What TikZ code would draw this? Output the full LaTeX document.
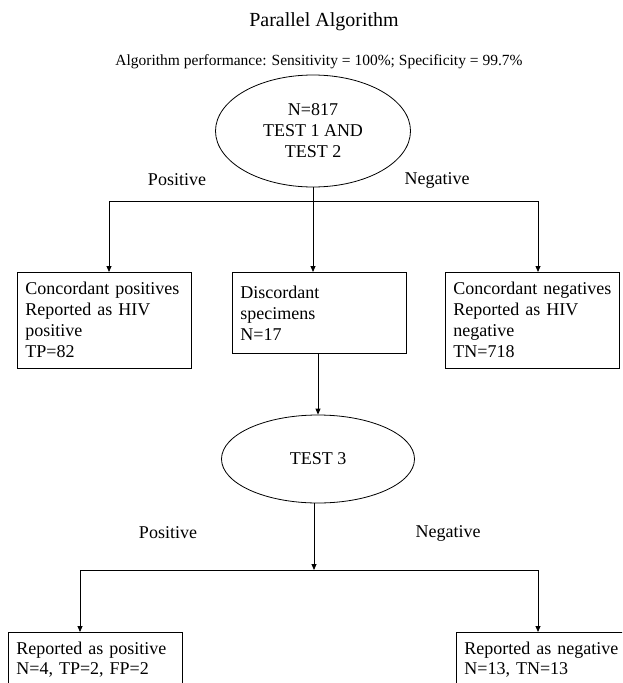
\documentclass[tikz,border=0pt]{standalone}
\usepackage{fontspec}
\setmainfont{Liberation Serif}
\usetikzlibrary{arrows.meta,shapes.geometric}

\begin{document}
\begin{tikzpicture}[x=1pt,y=-1pt,>={Triangle[length=6pt,width=5pt]},line width=0.8pt,
  txt/.style={font=\fontsize{18}{21}\selectfont},
  test/.style={txt,ellipse,draw,align=center,inner sep=0pt},
  result/.style={txt,draw,align=left,anchor=north west,inner xsep=8pt,inner ysep=10pt,text width=158pt}]
  \useasboundingbox (0,0) rectangle (622,683);
  \clip (0,0) rectangle (622,683);

  \draw (324,22) node[font=\fontsize{20}{24}\selectfont] (title) {Parallel Algorithm};
  \draw (319,62) node[font=\fontsize{15.5}{18}\selectfont] (perf) {Algorithm performance: Sensitivity = 100\%; Specificity = 99.7\%};

  % first round
  \draw (313,131) node[test,minimum width=195pt,minimum height=112pt] (e1) {N=817\\TEST 1 AND\\TEST 2};
  \draw (177,180) node[txt] (pos1) {Positive};
  \draw (437,180) node[txt] (neg1) {Negative};

  \draw (17,272) node[result] (cpos) {Concordant positives\\Reported as HIV\\positive\\TP=82};
  \draw (232,272) node[result,minimum height=81pt] (disc) {Discordant\\specimens\\N=17};
  \draw (445,272) node[result] (cneg) {Concordant negatives\\Reported as HIV\\negative\\TN=718};

  \coordinate (l1) at (109,201);
  \coordinate (r1) at (538,201);
  \draw (l1) -- (r1);
  \draw[->] (l1) -- (l1 |- cpos.north);
  \draw[->] (r1) -- (r1 |- cneg.north);
  \draw[->] (e1.south) -- (e1.south |- disc.north);

  % second round
  \draw (318,459) node[test,minimum width=193pt,minimum height=88pt] (e2) {TEST 3};
  \draw[->] (disc.south -| e2.north) -- (e2.north);
  \draw (168,533) node[txt] (pos2) {Positive};
  \draw (448,533) node[txt] (neg2) {Negative};

  \draw (8,632) node[result,font=\fontsize{18}{20}\selectfont] (rpos) {Reported as positive\\N=4, TP=2, FP=2};
  \draw (456,632) node[result,font=\fontsize{18}{20}\selectfont] (rneg) {Reported as negative\\N=13, TN=13};

  \coordinate (l2) at (80,570);
  \coordinate (m2) at (314,570);
  \coordinate (r2) at (538,570);
  \draw[->] (m2 |- e2.south) -- (m2);
  \draw (l2) -- (r2);
  \draw[->] (l2) -- (l2 |- rpos.north);
  \draw[->] (r2) -- (r2 |- rneg.north);
\end{tikzpicture}
\end{document}
